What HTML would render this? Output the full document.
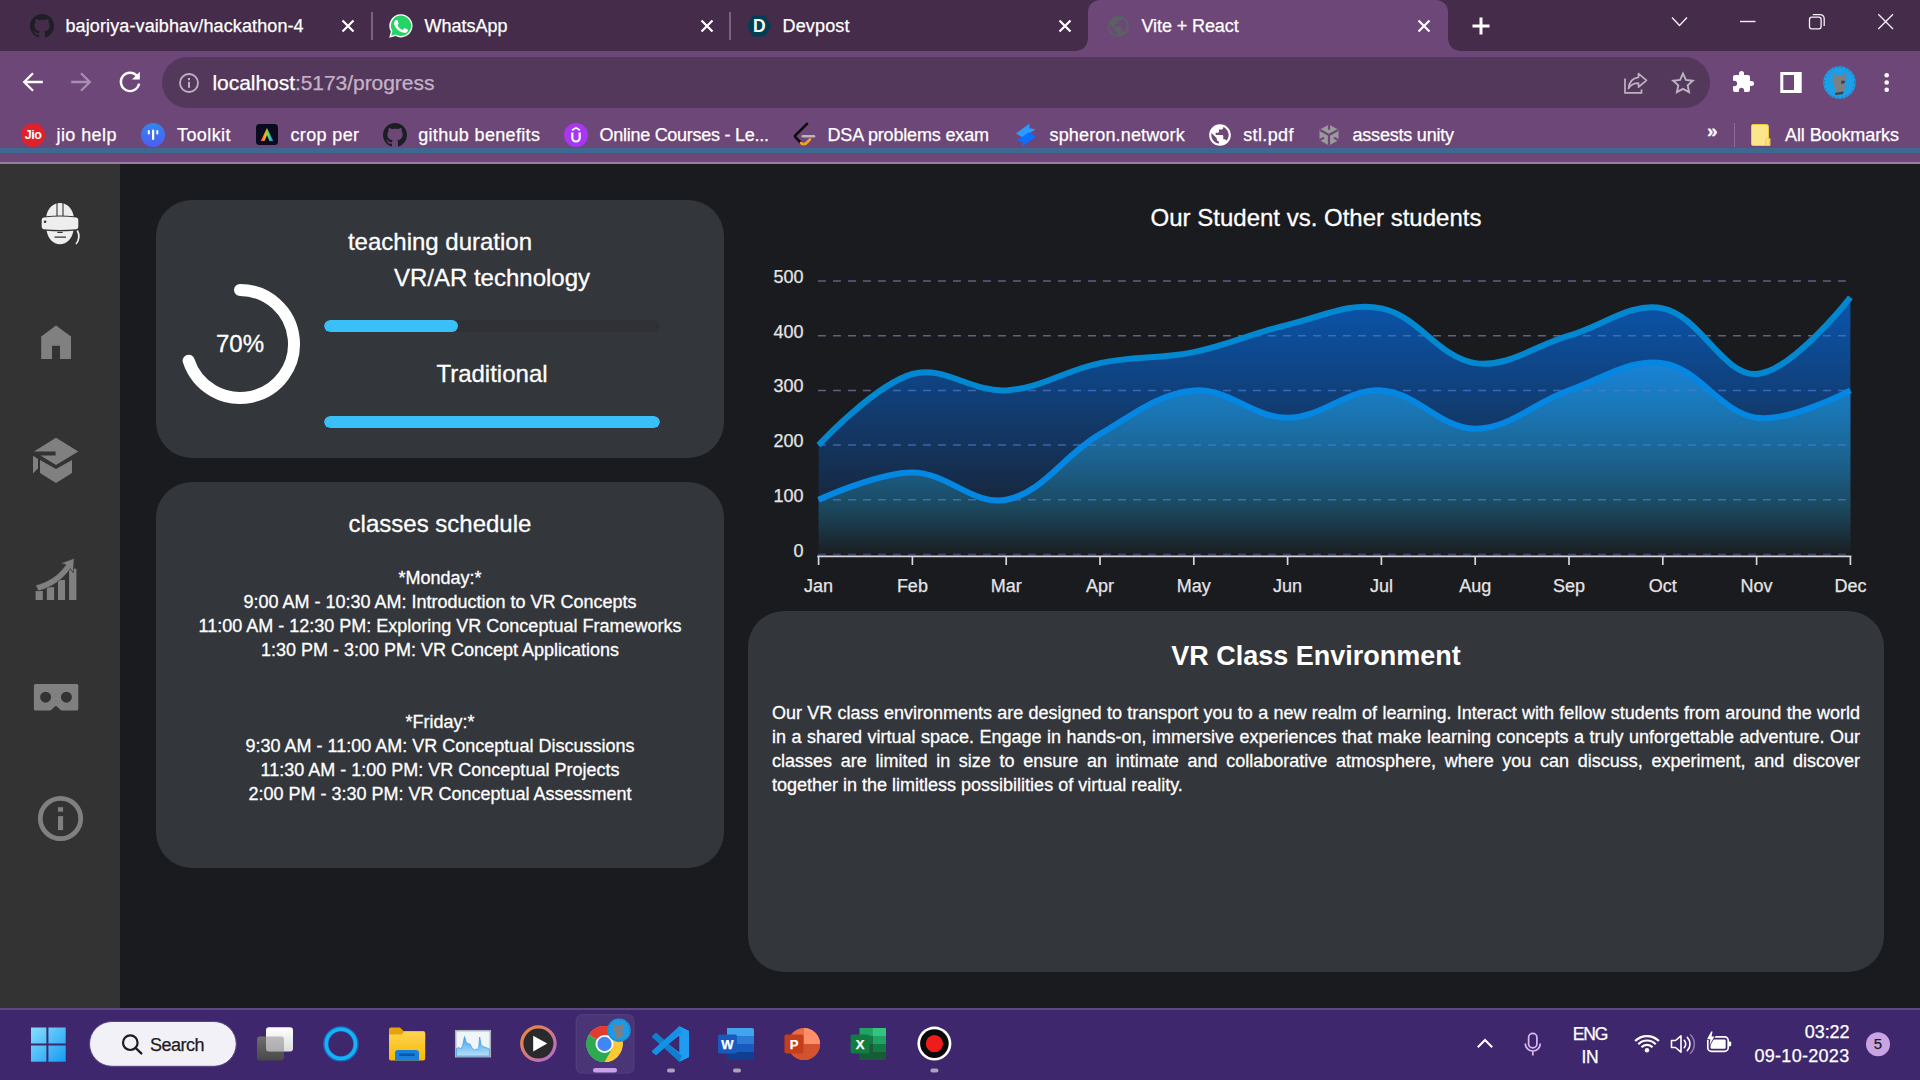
<!DOCTYPE html>
<html lang="en">
<head>
<meta charset="utf-8">
<title>Vite + React</title>
<style>
html,body{margin:0;padding:0;}
body{width:1920px;height:1080px;overflow:hidden;position:relative;background:#1a1b1e;font-family:"Liberation Sans",Arial,sans-serif;color:#fff;}
.abs{position:absolute;}
/* ---------- browser chrome ---------- */
#tabbar{position:absolute;left:0;top:0;width:1920px;height:51px;background:#452c4a;z-index:2;}
#toolbar{position:absolute;left:0;top:50px;width:1920px;height:112px;background:#6d4777;}
#blueline{position:absolute;left:0;top:148px;width:1920px;height:5px;background:#3e688f;}
#lightline{position:absolute;left:0;top:162px;width:1920px;height:2px;background:#9b7ca6;}
.ui{font-family:"Liberation Sans",Arial,sans-serif;white-space:nowrap;position:absolute;color:#fff;}

.tt{position:absolute;-webkit-text-stroke:0.25px #fff;font-size:18px;line-height:22px;white-space:nowrap;color:#fff;}
.sep{position:absolute;width:1.5px;background:#7a6180;}
#acttab{position:absolute;left:1088px;top:0;width:360px;height:51px;background:#6d4777;border-radius:12px 12px 0 0;}
#acttab:before,#acttab:after{content:"";position:absolute;bottom:0;width:12px;height:12px;}
#acttab:before{left:-12px;background:radial-gradient(circle at 0 0,rgba(0,0,0,0) 11.5px,#6d4777 12px);}
#acttab:after{right:-12px;background:radial-gradient(circle at 100% 0,rgba(0,0,0,0) 11.5px,#6d4777 12px);}

#toolbar .tt{position:absolute;-webkit-text-stroke:0.25px #fff;font-size:18px;line-height:22px;white-space:nowrap;color:#fff;}
#omni{position:absolute;left:162px;top:7px;width:1548px;height:51px;border-radius:26px;background:#54385b;}
#url{-webkit-text-stroke:0.25px #fff;position:absolute;left:212.500px;top:20px;font-size:21px;line-height:26px;white-space:nowrap;color:#fff;letter-spacing:-0.05px;}
#url span{color:#c3b3c8;-webkit-text-stroke:0.25px #c3b3c8;}

#taskbar .tx{position:absolute;-webkit-text-stroke:0.25px currentColor;font-size:18px;line-height:22px;white-space:nowrap;color:#fff;}
/* ---------- page ---------- */
#page{position:absolute;left:0;top:0;width:1920px;height:1008px;background:#1a1b1e;overflow:hidden;}
#sidebar{position:absolute;left:0;top:164px;width:120px;height:844px;background:#333333;}
.card{position:absolute;background:#33363b;border-radius:36px;}

.t24{position:absolute;-webkit-text-stroke:0.3px #fff;font-size:24px;line-height:28px;white-space:nowrap;text-align:center;color:#fff;}
.t18{position:absolute;-webkit-text-stroke:0.3px #fff;font-size:18px;line-height:24px;white-space:nowrap;text-align:center;color:#fff;}
.track{position:absolute;left:324px;width:336px;height:12px;border-radius:6px;background:#2f3137;overflow:hidden;}
.fill{position:absolute;left:0;top:0;height:12px;border-radius:6px;background:#3abff8;}
#envtext{-webkit-text-stroke:0.3px #fff;position:absolute;left:772px;top:701px;width:1088px;font-size:18px;line-height:24px;text-align:justify;color:#fff;}
/* ---------- taskbar ---------- */
#taskbar{position:absolute;left:0;top:1008px;width:1920px;height:72px;background:#3e276d;}
#taskbar:before{content:"";position:absolute;left:0;top:0;width:100%;height:2px;background:#5a487f;}
</style>
</head>
<body>
<div id="page">
<div id="sidebar">
<svg class="abs" style="left:0;top:0" width="120" height="844" viewBox="0 164 120 844">
<!-- vr head -->
<g fill="#eeeeee">
<path d="M46.300 216.300C47.500 208.500 52.800 203 60 203S72.500 208.500 73.700 216.300Q60 214.600 46.300 216.300z"/>
<path d="M46.600 230.700Q60 231.900 73.400 230.700C72 238.600 66.800 244.200 60 244.200S48 238.600 46.600 230.700z"/>
<path d="M43.700 217.600Q60 215.500 76.300 217.600Q78.300 217.900 78.300 220V226.800Q78.300 228.900 76.300 229.200Q60 230.700 43.700 229.200Q41.700 228.900 41.700 226.800V220Q41.700 217.900 43.700 217.600z"/>
</g>
<path d="M57 203V216M63 203V216" stroke="#333" stroke-width="1.100" fill="none"/>
<circle cx="45.100" cy="221.700" r="1.300" fill="#333"/>
<path d="M57.300 232.400H62.700M54.500 237.100H66" stroke="#333" stroke-width="1.200" fill="none"/>
<path d="M77.300 230.500C80 235.500 79.300 240 76 244" stroke="#eeeeee" stroke-width="1.700" fill="none"/>
<!-- home -->
<path d="M41.200 359V336.600L56 325.600L71 336.600V359H60V345.800H52V359z" fill="#808080"/>
<!-- school -->
<g fill="#808080">
<path d="M56 437.800L78.300 451.400L56 465L40.500 455.600H55.600V451.400H33.900z"/>
<path d="M33 455.800L38 458.900V468.300L33 473.500z"/>
<path d="M40 460L56 468.900L72 460V473.100L56 483L40 473.100z"/>
</g>
<!-- chart -->
<g fill="#808080">
<rect x="35.600" y="591" width="7.200" height="9"/>
<rect x="46.900" y="587.200" width="7.200" height="12.800"/>
<rect x="58" y="580" width="7" height="20"/>
<rect x="69.100" y="568.700" width="7.300" height="31.300"/>
</g>
<path d="M35.600 585.200C48 582 59 575 65.800 564.700L60.600 563.300L74.200 558.300L73.300 572.800L70.300 568.700C63.500 579 52 587.500 38.300 591.100z" fill="#808080" stroke="#333" stroke-width="0.700"/>
<!-- cardboard -->
<path d="M35.400 684.100H76.800Q78.300 684.100 78.300 685.600V709.100Q78.300 710.600 76.800 710.600H62.300Q61.300 710.600 60.600 709.900L56.600 706.200Q55.900 705.600 55.200 706.200L51.200 709.900Q50.500 710.600 49.500 710.600H35.400Q33.900 710.600 33.900 709.100V685.600Q33.900 684.100 35.400 684.100zM45.600 691.700a5.500 5.500 0 1 0 0 11a5.500 5.500 0 1 0 0 -11zM66.400 691.700a5.500 5.500 0 1 0 0 11a5.500 5.500 0 1 0 0 -11z" fill="#808080" fill-rule="evenodd"/>
<!-- info -->
<circle cx="60.500" cy="818.500" r="20.200" stroke="#808080" stroke-width="4.800" fill="none"/>
<rect x="58" y="807.200" width="5.100" height="4.500" fill="#808080"/>
<rect x="58" y="816.100" width="5.100" height="14" fill="#808080"/>
</svg>
</div>

<!-- teaching duration card -->
<div class="card" style="left:156px;top:200px;width:568px;height:258px;">
</div>
<div class="t24" style="left:156px;width:568px;top:228px;">teaching duration</div>
<div class="t24" style="left:324px;width:336px;top:264px;">VR/AR technology</div>
<div class="track" style="top:320px;"><div class="fill" style="width:134px;"></div></div>
<div class="t24" style="left:324px;width:336px;top:360px;">Traditional</div>
<div class="track" style="top:416px;"><div class="fill" style="width:336px;"></div></div>
<svg class="abs" style="left:176px;top:280px;" width="128" height="128" viewBox="176 280 128 128">
<path id="ring" d="M240 290 A54 54 0 1 1 188.64 360.69" fill="none" stroke="#fff" stroke-width="12" stroke-linecap="round"/>
</svg>
<div class="t24" style="left:180px;width:120px;top:330px;">70%</div>

<!-- classes schedule card -->
<div class="card" style="left:156px;top:482px;width:568px;height:386px;"></div>
<div class="t24" style="left:156px;width:568px;top:510px;">classes schedule</div>
<div class="t18" style="left:156px;width:568px;top:566px;">*Monday:*<br>9:00 AM - 10:30 AM: Introduction to VR Concepts<br>11:00 AM - 12:30 PM: Exploring VR Conceptual Frameworks<br>1:30 PM - 3:00 PM: VR Concept Applications</div>
<div class="t18" style="left:156px;width:568px;top:710px;">*Friday:*<br>9:30 AM - 11:00 AM: VR Conceptual Discussions<br>11:30 AM - 1:00 PM: VR Conceptual Projects<br>2:00 PM - 3:30 PM: VR Conceptual Assessment</div>

<!-- chart -->
<svg class="abs" style="left:740px;top:180px;" width="1180" height="430" viewBox="740 180 1180 430" font-family="'Liberation Sans',Arial,sans-serif">
<defs>
<linearGradient id="gA" x1="0" y1="297" x2="0" y2="554.5" gradientUnits="userSpaceOnUse">
<stop offset="0" stop-color="#0a55ad"/><stop offset="1" stop-color="#1a1c22"/>
</linearGradient>
<linearGradient id="gB" x1="0" y1="363" x2="0" y2="554.5" gradientUnits="userSpaceOnUse">
<stop offset="0" stop-color="#1884d8"/><stop offset="0.25" stop-color="#1a76b4"/><stop offset="0.5" stop-color="#1b6390"/><stop offset="0.75" stop-color="#1b4960"/><stop offset="0.9" stop-color="#1b2f3a"/><stop offset="1" stop-color="#1a1e22"/>
</linearGradient>
<clipPath id="areaclip"><path d="M818.6 445.1C818.6 445.1 874.0 385.2 912.4 374.0C943.4 364.9 971.9 392.4 1006.2 390.4C1041.4 388.4 1064.7 370.3 1100.0 363.1C1134.1 356.1 1159.7 359.1 1193.8 352.1C1229.1 344.9 1252.4 333.0 1287.6 324.8C1321.9 316.8 1349.0 301.7 1381.4 308.4C1418.4 315.9 1438.7 357.7 1475.2 363.1C1508.1 367.8 1534.3 345.8 1569.0 335.7C1603.7 325.6 1630.8 301.8 1662.8 308.4C1700.3 316.0 1722.9 376.0 1756.6 374.0C1792.3 371.9 1850.4 297.4 1850.4 297.4L1850.4 554.5 L818.6 554.5 Z"/></clipPath>
<clipPath id="plot"><rect x="816" y="270" width="1037" height="286"/></clipPath>
</defs>
<text x="1316" y="226" font-size="24" fill="#fff" stroke="#fff" stroke-width="0.3" text-anchor="middle">Our Student vs. Other students</text>
<g stroke="#625f80" stroke-width="1.5" stroke-dasharray="7.9 7.1"><line x1="818" x2="1850" y1="554.5" y2="554.5"/><line x1="818" x2="1850" y1="499.8" y2="499.8"/><line x1="818" x2="1850" y1="445.1" y2="445.1"/><line x1="818" x2="1850" y1="390.4" y2="390.4"/><line x1="818" x2="1850" y1="335.7" y2="335.7"/><line x1="818" x2="1850" y1="281.0" y2="281.0"/></g>
<g clip-path="url(#plot)">
<path d="M818.6 445.1C818.6 445.1 874.0 385.2 912.4 374.0C943.4 364.9 971.9 392.4 1006.2 390.4C1041.4 388.4 1064.7 370.3 1100.0 363.1C1134.1 356.1 1159.7 359.1 1193.8 352.1C1229.1 344.9 1252.4 333.0 1287.6 324.8C1321.9 316.8 1349.0 301.7 1381.4 308.4C1418.4 315.9 1438.7 357.7 1475.2 363.1C1508.1 367.8 1534.3 345.8 1569.0 335.7C1603.7 325.6 1630.8 301.8 1662.8 308.4C1700.3 316.0 1722.9 376.0 1756.6 374.0C1792.3 371.9 1850.4 297.4 1850.4 297.4L1850.4 554.5 L818.6 554.5 Z" fill="url(#gA)"/>
<path d="M818.6 499.8C818.6 499.8 877.7 472.4 912.4 472.4C947.1 472.4 974.2 506.3 1006.2 499.8C1043.7 492.2 1063.5 455.4 1100.0 434.2C1133.0 414.9 1158.1 393.5 1193.8 390.4C1227.5 387.5 1252.9 417.8 1287.6 417.8C1322.3 417.8 1347.3 388.4 1381.4 390.4C1416.7 392.5 1440.5 428.7 1475.2 428.7C1509.9 428.7 1533.7 402.8 1569.0 390.4C1603.1 378.5 1629.9 358.3 1662.8 363.1C1699.3 368.4 1720.1 412.4 1756.6 417.8C1789.5 422.5 1850.4 390.4 1850.4 390.4L1850.4 554.5 L818.6 554.5 Z" fill="url(#gB)"/>
</g>
<g stroke="#4a7cd6" stroke-opacity="0.7" stroke-width="1.5" stroke-dasharray="7.9 7.1" clip-path="url(#areaclip)"><line x1="818" x2="1850" y1="554.5" y2="554.5"/><line x1="818" x2="1850" y1="499.8" y2="499.8"/><line x1="818" x2="1850" y1="445.1" y2="445.1"/><line x1="818" x2="1850" y1="390.4" y2="390.4"/><line x1="818" x2="1850" y1="335.7" y2="335.7"/><line x1="818" x2="1850" y1="281.0" y2="281.0"/></g>
<g clip-path="url(#plot)">
<path d="M818.6 445.1C818.6 445.1 874.0 385.2 912.4 374.0C943.4 364.9 971.9 392.4 1006.2 390.4C1041.4 388.4 1064.7 370.3 1100.0 363.1C1134.1 356.1 1159.7 359.1 1193.8 352.1C1229.1 344.9 1252.4 333.0 1287.6 324.8C1321.9 316.8 1349.0 301.7 1381.4 308.4C1418.4 315.9 1438.7 357.7 1475.2 363.1C1508.1 367.8 1534.3 345.8 1569.0 335.7C1603.7 325.6 1630.8 301.8 1662.8 308.4C1700.3 316.0 1722.9 376.0 1756.6 374.0C1792.3 371.9 1850.4 297.4 1850.4 297.4" fill="none" stroke="#0288d1" stroke-width="6"/>
<path d="M818.6 499.8C818.6 499.8 877.7 472.4 912.4 472.4C947.1 472.4 974.2 506.3 1006.2 499.8C1043.7 492.2 1063.5 455.4 1100.0 434.2C1133.0 414.9 1158.1 393.5 1193.8 390.4C1227.5 387.5 1252.9 417.8 1287.6 417.8C1322.3 417.8 1347.3 388.4 1381.4 390.4C1416.7 392.5 1440.5 428.7 1475.2 428.7C1509.9 428.7 1533.7 402.8 1569.0 390.4C1603.1 378.5 1629.9 358.3 1662.8 363.1C1699.3 368.4 1720.1 412.4 1756.6 417.8C1789.5 422.5 1850.4 390.4 1850.4 390.4" fill="none" stroke="#0487e2" stroke-width="6"/>
</g>
<line x1="817.300" x2="1851.300" y1="556.300" y2="556.300" stroke="#d6d6da" stroke-width="1.800"/>
<g stroke="#d6d6da" stroke-width="1.700"><line x1="818.6" x2="818.6" y1="556" y2="565"/><line x1="912.4" x2="912.4" y1="556" y2="565"/><line x1="1006.2" x2="1006.2" y1="556" y2="565"/><line x1="1100.0" x2="1100.0" y1="556" y2="565"/><line x1="1193.8" x2="1193.8" y1="556" y2="565"/><line x1="1287.6" x2="1287.6" y1="556" y2="565"/><line x1="1381.4" x2="1381.4" y1="556" y2="565"/><line x1="1475.2" x2="1475.2" y1="556" y2="565"/><line x1="1569.0" x2="1569.0" y1="556" y2="565"/><line x1="1662.8" x2="1662.8" y1="556" y2="565"/><line x1="1756.6" x2="1756.6" y1="556" y2="565"/><line x1="1850.4" x2="1850.4" y1="556" y2="565"/></g>
<g font-size="18" fill="#e4e4e6" stroke="#e4e4e6" stroke-width="0.25" text-anchor="middle"><text x="818.6" y="592">Jan</text><text x="912.4" y="592">Feb</text><text x="1006.2" y="592">Mar</text><text x="1100.0" y="592">Apr</text><text x="1193.8" y="592">May</text><text x="1287.6" y="592">Jun</text><text x="1381.4" y="592">Jul</text><text x="1475.2" y="592">Aug</text><text x="1569.0" y="592">Sep</text><text x="1662.8" y="592">Oct</text><text x="1756.6" y="592">Nov</text><text x="1850.4" y="592">Dec</text></g>
<g font-size="18" fill="#e4e4e6" stroke="#e4e4e6" stroke-width="0.25" text-anchor="end"><text x="803.500" y="556.5">0</text><text x="803.500" y="501.8">100</text><text x="803.500" y="447.1">200</text><text x="803.500" y="392.4">300</text><text x="803.500" y="337.7">400</text><text x="803.500" y="283.0">500</text></g>
</svg>

<!-- VR class environment card -->
<div class="card" style="left:748px;top:611px;width:1136px;height:361px;"></div>
<div class="abs" style="left:748px;width:1136px;top:639px;text-align:center;font-size:27px;line-height:34px;font-weight:bold;white-space:nowrap;">VR Class Environment</div>
<div id="envtext">Our VR class environments are designed to transport you to a new realm of learning. Interact with fellow students from around the world in a shared virtual space. Engage in hands-on, immersive experiences that make learning concepts a truly unforgettable adventure. Our classes are limited in size to ensure an intimate and collaborative atmosphere, where you can discuss, experiment, and discover together in the limitless possibilities of virtual reality.</div>
<!--CARDS-->
</div>
<div id="tabbar">
<svg class="abs" style="left:30px;top:14px" width="24" height="24" viewBox="0 0 16 16"><path d="M8 0C3.58 0 0 3.58 0 8c0 3.54 2.29 6.53 5.47 7.59.4.07.55-.17.55-.38 0-.19-.01-.82-.01-1.49-2.01.37-2.53-.49-2.69-.94-.09-.23-.48-.94-.82-1.13-.28-.15-.68-.52-.01-.53.63-.01 1.08.58 1.23.82.72 1.21 1.87.87 2.33.66.07-.52.28-.87.51-1.07-1.78-.2-3.64-.89-3.64-3.95 0-.87.31-1.59.82-2.15-.08-.2-.36-1.02.08-2.12 0 0 .67-.21 2.2.82.64-.18 1.32-.27 2-.27.68 0 1.36.09 2 .27 1.53-1.04 2.2-.82 2.2-.82.44 1.1.16 1.92.08 2.12.51.56.82 1.27.82 2.15 0 3.07-1.87 3.75-3.65 3.95.29.25.54.73.54 1.48 0 1.07-.01 1.93-.01 2.2 0 .21.15.46.55.38A8.013 8.013 0 0016 8c0-4.42-3.58-8-8-8z" fill="#1d1f24"/></svg>
<div class="tt" style="left:65.5px;top:15px;letter-spacing:0.11px">bajoriya-vaibhav/hackathon-4</div>
<svg class="abs" style="left:340px;top:17.7px" width="16" height="16" viewBox="-8 -8 16 16"><path d="M-5.5 -5.5L5.5 5.5M5.5 -5.5L-5.5 5.5" stroke="#fff" stroke-width="2.2" fill="none"/></svg>
<div class="sep" style="left:371px;top:12px;height:28px"></div>
<svg class="abs" style="left:388px;top:13px" width="26" height="26" viewBox="0 0 26 26"><path d="M13 1.2A11.6 11.6 0 0 0 2.9 18.6L1.2 24.8l6.4-1.7A11.6 11.6 0 1 0 13 1.2z" fill="#fff"/><path d="M13 2.6A10.2 10.2 0 0 0 4.4 18.3L3.2 22.8l4.6-1.2A10.2 10.2 0 1 0 13 2.6z" fill="#25d366"/><path d="M9.6 7.5c-.3-.6-.5-.6-.8-.6h-.7c-.2 0-.6.1-.9.5-.3.4-1.2 1.200-1.200 2.900s1.200 3.300 1.400 3.600c.2.200 2.400 3.800 5.900 5.200 2.900 1.100 3.500.9 4.100.8.600-.1 2-.8 2.300-1.600.3-.8.3-1.500.2-1.600-.1-.2-.3-.2-.7-.4l-2.300-1.100c-.3-.1-.6-.2-.8.200-.2.300-.9 1.100-1.100 1.300-.2.200-.4.300-.7.100-.4-.2-1.500-.6-2.800-1.700-1-.9-1.700-2.100-1.900-2.400-.2-.4 0-.5.100-.7l.5-.6c.2-.2.200-.3.300-.6.100-.200.100-.4 0-.6z" fill="#fff"/></svg>
<div class="tt" style="left:424.5px;top:15px;letter-spacing:0px">WhatsApp</div>
<svg class="abs" style="left:698.7px;top:17.7px" width="16" height="16" viewBox="-8 -8 16 16"><path d="M-5.5 -5.5L5.5 5.5M5.5 -5.5L-5.5 5.5" stroke="#fff" stroke-width="2.2" fill="none"/></svg>
<div class="sep" style="left:729px;top:12px;height:28px"></div>
<svg class="abs" style="left:747px;top:14px" width="24" height="24" viewBox="0 0 24 24"><path d="M6 1.6h12l6 10.400-6 10.400H6L0 12z" fill="#003e54"/><text x="12.300" y="18.200" font-family="'Liberation Sans',Arial,sans-serif" font-weight="bold" font-size="17.500" fill="#fff" text-anchor="middle">D</text></svg>
<div class="tt" style="left:782.5px;top:15px;letter-spacing:0.16px">Devpost</div>
<svg class="abs" style="left:1057px;top:17.7px" width="16" height="16" viewBox="-8 -8 16 16"><path d="M-5.5 -5.5L5.5 5.5M5.5 -5.5L-5.5 5.5" stroke="#fff" stroke-width="2.2" fill="none"/></svg>
<div id="acttab"></div>
<svg class="abs" style="left:1105.500px;top:13.500px" width="25" height="25" viewBox="0 0 24 24"><path d="M12 2C6.48 2 2 6.48 2 12s4.48 10 10 10 10-4.48 10-10S17.52 2 12 2zm-1 17.93c-3.95-.49-7-3.85-7-7.93 0-.62.08-1.21.21-1.79L9 15v1c0 1.1.9 2 2 2v1.93zm6.9-2.54c-.26-.81-1-1.39-1.9-1.39h-1v-3c0-.55-.45-1-1-1H8v-2h2c.55 0 1-.45 1-1V7h2c1.1 0 2-.9 2-2v-.41c2.93 1.19 5 4.06 5 7.41 0 2.08-.8 3.97-2.1 5.39z" fill="#5c5f66"/></svg>
<div class="tt" style="left:1141.500px;top:15px;letter-spacing:-0.1px">Vite + React</div>
<svg class="abs" style="left:1415.7px;top:17.7px" width="16" height="16" viewBox="-8 -8 16 16"><path d="M-5.5 -5.5L5.5 5.5M5.5 -5.5L-5.5 5.5" stroke="#fff" stroke-width="2.2" fill="none"/></svg>
<svg class="abs" style="left:1470px;top:15px" width="22" height="22" viewBox="-11 -11 22 22"><path d="M-8.500 0H8.500M0 -8.500V8.500" stroke="#fff" stroke-width="3" fill="none"/></svg>
<svg class="abs" style="left:1669px;top:14px" width="20" height="16" viewBox="0 0 20 16"><path d="M3 3.500L10.500 11.500L18 3.500" stroke="#f6f2f7" stroke-width="1.300" fill="none"/></svg>
<svg class="abs" style="left:1738px;top:18px" width="20" height="8" viewBox="0 0 20 8"><path d="M2 3.500H17.500" stroke="#f6f2f7" stroke-width="1.400" fill="none"/></svg>
<svg class="abs" style="left:1806px;top:12px" width="22" height="20" viewBox="0 0 22 20"><rect x="3.500" y="5.200" width="11.600" height="11.600" rx="2.200" stroke="#f6f2f7" stroke-width="1.300" fill="none"/><path d="M6.800 2.600H14.200A4 4 0 0 1 18.200 6.600V14" stroke="#f6f2f7" stroke-width="1.300" fill="none"/></svg>
<svg class="abs" style="left:1875px;top:11px" width="22" height="22" viewBox="0 0 22 22"><path d="M3.300 3.300L18 18M18 3.300L3.300 18" stroke="#f6f2f7" stroke-width="1.300" fill="none"/></svg>
</div>
<div id="toolbar">
<svg class="abs" style="left:21px;top:20px" width="24" height="24" viewBox="0 0 24 24"><path d="M21.800 12H3.800M12 3.200L3.200 12L12 20.800" stroke="#fff" stroke-width="2.300" fill="none"/></svg>
<svg class="abs" style="left:69px;top:20px" width="24" height="24" viewBox="0 0 24 24"><path d="M2.200 12H20.200M12 3.200L20.800 12L12 20.800" stroke="#a88fb2" stroke-width="2.300" fill="none"/></svg>
<svg class="abs" style="left:117px;top:19px" width="26" height="26" viewBox="0 0 26 26"><path d="M20.300 7.200A9.200 9.200 0 1 0 22.100 14.600" stroke="#fff" stroke-width="2.400" fill="none"/><path d="M22.800 2.800V10.600H15z" fill="#fff"/></svg>
<div id="omni"></div>
<svg class="abs" style="left:178px;top:22px" width="22" height="22" viewBox="0 0 22 22"><circle cx="11" cy="11" r="9" stroke="#bdb2c2" stroke-width="1.800" fill="none"/><rect x="10" y="9.800" width="2" height="6" fill="#bdb2c2"/><rect x="10" y="6" width="2" height="2.200" fill="#bdb2c2"/></svg>
<div id="url">localhost<span>:5173/progress</span></div>
<svg class="abs" style="left:1622px;top:21px" width="28" height="24" viewBox="0 0 28 24"><path d="M3 7.500V21.800H19.500V18.500" stroke="#bdb2c2" stroke-width="1.700" fill="none"/><path d="M16.500 2.600L24.500 9.300L16.500 16V12.200C11.500 12.200 8.500 14 6.500 17.500C7 12 10 7 16.500 6.300z" stroke="#bdb2c2" stroke-width="1.700" fill="none" stroke-linejoin="round"/></svg>
<svg class="abs" style="left:1670px;top:20px" width="26" height="26" viewBox="0 0 26 26"><path d="M13 3.600l2.900 6.300 6.900.800-5.100 4.700 1.400 6.800L13 18.800 6.900 22.200l1.400-6.800L3.200 10.700l6.900-.800z" stroke="#bdb2c2" stroke-width="1.900" fill="none" stroke-linejoin="miter"/></svg>
<svg class="abs" style="left:1731px;top:20px" width="24" height="24" viewBox="0 0 24 24"><path d="M20.500 11H19V7c0-1.100-.9-2-2-2h-4V3.500a2.500 2.500 0 0 0-5 0V5H4c-1.100 0-1.990.9-1.990 2v3.800H3.500c1.490 0 2.700 1.210 2.700 2.700s-1.210 2.700-2.700 2.700H2V20c0 1.100.9 2 2 2h3.800v-1.500c0-1.490 1.210-2.700 2.700-2.700 1.490 0 2.700 1.210 2.700 2.700V22H17c1.100 0 2-.9 2-2v-4h1.500a2.500 2.500 0 0 0 0-5z" fill="#fff"/></svg>
<svg class="abs" style="left:1780px;top:22px" width="22" height="21" viewBox="0 0 22 21"><path d="M0.300 0H21.700V21H0.300zM3.300 3V18H14V3z" fill="#fff" fill-rule="evenodd"/></svg>
<svg class="abs" style="left:1823px;top:15.700px" width="33" height="33" viewBox="0 0 33 33"><circle cx="16.500" cy="16.500" r="16.200" fill="#1d9fe8"/><circle cx="16.500" cy="16.500" r="15" fill="none" stroke="#136c9e" stroke-width="0.800" stroke-dasharray="1.500 2.500"/><path d="M11 6.500l2.500 3.500 6-0.500 3-4 1 6.500-2.500 5 1.500 3.500-2 6-8 1.500-1-9-2-4.500z" fill="#7d7f83"/><path d="M18.500 14.500l4 .500-1.500 2.500-3 .300zM12 27l8.500-1.500-.500 2.500-7.500 1z" fill="#3d3f42"/></svg>
<svg class="abs" style="left:1882px;top:21px" width="10" height="24" viewBox="0 0 10 24"><circle cx="4.700" cy="4.300" r="2.300" fill="#fff"/><circle cx="4.700" cy="11.500" r="2.300" fill="#fff"/><circle cx="4.700" cy="18.700" r="2.300" fill="#fff"/></svg>

<!-- bookmarks bar -->
<svg class="abs" style="left:21px;top:73px" width="24" height="24" viewBox="0 0 24 24"><circle cx="12" cy="12" r="12" fill="#e0202b"/><text x="12" y="16.200" font-family="'Liberation Sans',Arial,sans-serif" font-weight="bold" font-size="12.500" fill="#fff" text-anchor="middle" letter-spacing="-0.500">Jio</text></svg>
<div class="tt" style="left:56.5px;top:74px;letter-spacing:0.42px">jio help</div>
<svg class="abs" style="left:141px;top:73px" width="24" height="24" viewBox="0 0 24 24"><defs><linearGradient id="tk" x1="0" y1="0" x2="0" y2="1"><stop offset="0" stop-color="#2f86f0"/><stop offset="1" stop-color="#4f5cf2"/></linearGradient></defs><circle cx="12" cy="12" r="12" fill="url(#tk)"/><rect x="11" y="6.500" width="2.200" height="10.500" rx="1" fill="#fff"/><rect x="6.800" y="7" width="2" height="4.500" rx="1" fill="#fff"/><rect x="15.300" y="7" width="2" height="4.500" rx="1" fill="#fff"/></svg>
<div class="tt" style="left:177px;top:74px;letter-spacing:0.41px">Toolkit</div>
<svg class="abs" style="left:256px;top:74px" width="22" height="21" viewBox="0 0 22 21"><defs><linearGradient id="ad" x1="0" y1="0" x2="1" y2="0"><stop offset="0" stop-color="#ff3d6e"/><stop offset="0.350" stop-color="#ffb000"/><stop offset="0.650" stop-color="#3ddc84"/><stop offset="1" stop-color="#3a6cff"/></linearGradient></defs><rect width="22" height="21" rx="3.500" fill="#0a0b1f"/><path d="M11 4l6.300 13h-3.800L11 11.200 8.500 17H4.700z" fill="url(#ad)"/></svg>
<div class="tt" style="left:290.5px;top:74px;letter-spacing:0.35px">crop per</div>
<svg class="abs" style="left:382.500px;top:73px" width="24" height="24" viewBox="0 0 16 16"><path d="M8 0C3.58 0 0 3.58 0 8c0 3.54 2.29 6.53 5.47 7.59.4.07.55-.17.55-.38 0-.19-.01-.82-.01-1.49-2.01.37-2.53-.49-2.69-.94-.09-.23-.48-.94-.82-1.13-.28-.15-.68-.52-.01-.53.63-.01 1.08.58 1.23.82.72 1.21 1.87.87 2.33.66.07-.52.28-.87.51-1.07-1.78-.2-3.64-.89-3.64-3.95 0-.87.31-1.59.82-2.15-.08-.2-.36-1.02.08-2.12 0 0 .67-.21 2.2.82.64-.18 1.32-.27 2-.27.68 0 1.36.09 2 .27 1.53-1.04 2.2-.82 2.2-.82.44 1.1.16 1.92.08 2.12.51.56.82 1.27.82 2.15 0 3.07-1.87 3.75-3.65 3.95.29.25.54.73.54 1.48 0 1.07-.01 1.93-.01 2.2 0 .21.15.46.55.38A8.013 8.013 0 0016 8c0-4.42-3.58-8-8-8z" fill="#1b1e23"/></svg>
<div class="tt" style="left:418.2px;top:74px;letter-spacing:0.33px">github benefits</div>
<svg class="abs" style="left:563.700px;top:73px" width="24" height="24" viewBox="0 0 24 24"><circle cx="12" cy="12" r="12" fill="#a737f2"/><path d="M8.300 9.500V14.800a3.700 3.700 0 0 0 7.400 0V9.500" stroke="#fff" stroke-width="2.200" fill="none"/><path d="M8 7.300L12 4.800L16 7.300" stroke="#fff" stroke-width="1.800" fill="none"/></svg>
<div class="tt" style="left:599.5px;top:74px;letter-spacing:-0.27px">Online Courses - Le...</div>
<svg class="abs" style="left:792px;top:72px" width="24" height="26" viewBox="0 0 24 26"><path d="M15 1.800L3.600 13.200a1.600 1.600 0 0 0 0 2.200L9 21" stroke="#0c0c0d" stroke-width="2.600" fill="none" stroke-linecap="round"/><path d="M9 21a3.800 3.800 0 0 0 5.400 0L18 17.400" stroke="#f7a41d" stroke-width="2.600" fill="none" stroke-linecap="round"/><path d="M10.800 14.300H22" stroke="#b8b8b8" stroke-width="2.600" fill="none" stroke-linecap="round"/></svg>
<div class="tt" style="left:827.5px;top:74px;letter-spacing:-0.16px">DSA problems exam</div>
<svg class="abs" style="left:1014px;top:72px" width="24" height="26" viewBox="0 0 24 26"><path d="M15.500 1.500L2 11.500l7 4.200L21.500 7.200l-6-1z" fill="#2a9bff"/><path d="M8.500 24.500L22 14.500l-7-4.200L2.500 18.800l6 1z" fill="#0d6efd"/></svg>
<div class="tt" style="left:1049.5px;top:74px;letter-spacing:0.15px">spheron.network</div>
<svg class="abs" style="left:1207px;top:72px" width="26" height="26" viewBox="0 0 24 24"><path d="M12 2C6.48 2 2 6.48 2 12s4.480 10 10 10 10-4.480 10-10S17.520 2 12 2zm-1 17.930c-3.950-.490-7-3.850-7-7.930 0-.620.080-1.210.210-1.790L9 15v1c0 1.100.900 2 2 2v1.930zm6.900-2.540c-.260-.810-1-1.390-1.900-1.390h-1v-3c0-.550-.450-1-1-1H8v-2h2c.550 0 1-.450 1-1V7h2c1.100 0 2-.900 2-2v-.410c2.930 1.190 5 4.060 5 7.410 0 2.080-.800 3.970-2.100 5.390z" fill="#fff"/></svg>
<div class="tt" style="left:1243.2px;top:74px;letter-spacing:0.37px">stl.pdf</div>
<svg class="abs" style="left:1317px;top:73px" width="24" height="24" viewBox="0 0 24 24"><path d="M12 1.500l9.500 5.300v10.400L12 22.500l-9.500-5.300V6.800z" fill="#9a9a9a"/><path d="M12 12V22M12 12L3 7M12 12l9-5" stroke="#6d4777" stroke-width="2.200"/><path d="M12 1.500v5.200M2.500 17.200l4.500-2.600M21.500 17.200l-4.500-2.600" stroke="#6d4777" stroke-width="2.200"/></svg>
<div class="tt" style="left:1352.5px;top:74px;letter-spacing:-0.21px">assests unity</div>
<div class="tt" style="left:1707px;top:70px;font-size:19px;font-weight:bold;">»</div>
<div class="sep" style="left:1733.500px;top:73px;height:24px;background:#8d6f96;"></div>
<svg class="abs" style="left:1751px;top:74px" width="20" height="22" viewBox="0 0 20 22"><path d="M2 0.500H15.500Q17.500 0.500 17.500 2.500V14.500H19V21.500H2Q0.500 21.500 0.500 20V2Q0.500 0.500 2 0.500z" fill="#fce68a" stroke="#f0c63c" stroke-width="1"/><path d="M14.800 21V16.200a1.800 1.800 0 0 1 3.600 0V21" fill="#fce68a" stroke="#f0c63c" stroke-width="1"/></svg>
<div class="tt" style="left:1785px;top:74px;letter-spacing:-0.09px">All Bookmarks</div>
</div>
<div id="blueline"></div>
<div id="lightline"></div>
<div id="taskbar">
<svg class="abs" style="left:0;top:0" width="1920" height="72" viewBox="0 1008 1920 72">
<defs>
<linearGradient id="wl" x1="0" y1="0" x2="1" y2="1"><stop offset="0" stop-color="#86defc"/><stop offset="1" stop-color="#149cf4"/></linearGradient>
<linearGradient id="tv1" x1="0" y1="0" x2="0" y2="1"><stop offset="0" stop-color="#6e6e6e"/><stop offset="1" stop-color="#484848"/></linearGradient>
<linearGradient id="tv2" x1="0" y1="0" x2="0" y2="1"><stop offset="0" stop-color="#ffffff"/><stop offset="1" stop-color="#dcdcdc"/></linearGradient>
<linearGradient id="fo" x1="0" y1="0" x2="0" y2="1"><stop offset="0" stop-color="#fdd352"/><stop offset="1" stop-color="#f9b900"/></linearGradient>
<linearGradient id="mp" x1="0" y1="0" x2="1" y2="1"><stop offset="0" stop-color="#f58a2c"/><stop offset="1" stop-color="#a86be0"/></linearGradient>
<linearGradient id="pm" x1="0" y1="0" x2="0" y2="1"><stop offset="0" stop-color="#3f9fea"/><stop offset="1" stop-color="#b5e0fa"/></linearGradient>
</defs>
<!-- windows logo -->
<g fill="url(#wl)"><rect x="31" y="1027.500" width="34.700" height="34.200" fill="url(#wl)"/></g>
<path d="M47.400 1027V1062.500M30.500 1044.600H66.500" stroke="#3e276d" stroke-width="2"/>
<!-- search pill -->
<rect x="89.500" y="1021.500" width="146.800" height="44.800" rx="22.400" fill="#f3f1f8" stroke="#574385" stroke-width="1"/>
<circle cx="130.300" cy="1042.700" r="7.300" stroke="#1c1c1c" stroke-width="2.200" fill="none"/>
<path d="M135.600 1048L141.300 1053.400" stroke="#1c1c1c" stroke-width="2.400" stroke-linecap="round"/>
<!-- task view -->
<rect x="257" y="1036.400" width="27" height="24" rx="3" fill="url(#tv1)"/>
<rect x="266" y="1027.200" width="27" height="24.400" rx="3" fill="url(#tv2)"/>
<path d="M266 1036.400H281Q284 1036.400 284 1039.400V1051.600H269Q266 1051.600 266 1048.600z" fill="#000" fill-opacity="0.220"/>
<!-- cortana -->
<circle cx="340.900" cy="1043.900" r="15" stroke="#1b6cc4" stroke-width="5.400" fill="none"/>
<circle cx="340.900" cy="1043.900" r="14.600" stroke="#14b3f5" stroke-width="3.400" fill="none"/>
<!-- file explorer -->
<path d="M389 1029.600Q389 1027.600 391 1027.600H400L403.500 1031H423.200Q425.200 1031 425.200 1033V1040H389z" fill="#e5a50a"/>
<path d="M389 1034.500H401.500L404.500 1031.500H423.200Q425.200 1031.500 425.200 1033.500V1058.400Q425.200 1060.400 423.200 1060.400H391Q389 1060.400 389 1058.400z" fill="url(#fo)"/>
<path d="M395 1053Q395 1050 398 1050H416Q419 1050 419 1053V1060.400H395z" fill="#1680dc"/>
<rect x="399" y="1053.600" width="15.700" height="2.400" rx="0.500" fill="#0a58a5"/>
<!-- perf monitor -->
<rect x="455.700" y="1030.700" width="34.600" height="26" fill="#f0f5f9" stroke="#a9b3bc" stroke-width="1.500"/>
<path d="M456.500 1048.500L459 1047.500L460.500 1049L462.500 1046L464.500 1036.500L466 1041.500L467.500 1043.500L470 1044L472 1048L474.500 1050L476.500 1049L478.500 1049.500L479.700 1037L481 1044.500L483 1046.500L486 1047.500L489.500 1049V1056H456.500z" fill="url(#pm)" stroke="#3a9be6" stroke-width="0.700"/>
<!-- media player -->
<circle cx="538.400" cy="1043.600" r="18.300" fill="url(#mp)"/>
<circle cx="538.400" cy="1043.600" r="15" fill="#2a2a2c"/>
<path d="M533.200 1035.800L547.200 1043.600L533.200 1051.400z" fill="#fff"/>
<!-- chrome highlight -->
<rect x="576" y="1014.500" width="58.200" height="58.800" rx="6" fill="#fff" fill-opacity="0.065" stroke="#fff" stroke-opacity="0.070" stroke-width="1"/>
<!-- chrome logo -->
<g transform="translate(604.500 1044)">
<circle r="18" fill="#fff"/>
<path d="M0 0L-15.590 -9A18 18 0 0 1 15.590 -9z" fill="#e33b2e"/>
<path d="M0 0L15.590 -9A18 18 0 0 1 0 18z" fill="#fcc934"/>
<path d="M0 0L0 18A18 18 0 0 1 -15.590 -9z" fill="#2da94f"/>
<path d="M-15.590 -9A18 18 0 0 1 15.590 -9L0 -9z" fill="#e33b2e"/>
<path d="M7.790 4.500L0 18A18 18 0 0 0 15.590 -9L0 -9z" fill="#fcc934"/>
<path d="M-7.790 4.500L-15.590 -9A18 18 0 0 0 0 18L7.790 4.500z" fill="#2da94f"/>
<circle r="9" fill="#fff"/>
<circle r="7.200" fill="#4285f4"/>
</g>
<!-- chrome badge -->
<circle cx="619" cy="1030.200" r="11.700" fill="#1b9ae6"/>
<circle cx="619" cy="1030.200" r="10.500" fill="none" stroke="#1478b8" stroke-width="0.800" stroke-dasharray="1.500 2"/>
<path d="M614.500 1023.200l2 2.500 4.500-.500 2.500-3 .500 5-1.800 3.500 1 2.500-1.500 4.500-6 1-.700-6.500-1.500-3.500z" fill="#7d7f83"/>
<rect x="593" y="1068" width="24" height="4.500" rx="2.250" fill="#c9a2ea"/>
<!-- vscode -->
<path d="M679.500 1026.300L689 1030.800V1057.200L679.500 1061.700L658 1041.500L654.300 1044.500L652 1043V1045L654.300 1043.500z" fill="none"/>
<path d="M679.300 1026.200L689 1030.900V1057.100L679.300 1061.800L662.500 1044L679.300 1026.200z" fill="#2aaaf2"/>
<path d="M679.300 1026.200L689 1030.900V1057.100L679.300 1061.800z" fill="#1f9cf0"/>
<path d="M679.300 1035.500V1052.500L668.200 1044z" fill="#3e276d"/>
<path d="M652.300 1035.700L655.200 1033.200Q656 1032.600 656.900 1033.300L682 1056L679.300 1061.800L652.400 1037.600Q651.500 1036.700 652.300 1035.700z" fill="#0f7fd0"/>
<path d="M652.300 1052.300L655.200 1054.800Q656 1055.400 656.900 1054.700L682 1032L679.300 1026.200L652.400 1050.400Q651.500 1051.300 652.300 1052.300z" fill="#1592e6"/>
<rect x="667" y="1068.500" width="8" height="4" rx="2" fill="#a9a3b8"/>
<!-- word -->
<path d="M727 1028H752Q754 1028 754 1030V1036H727z" fill="#41a5ee"/>
<rect x="727" y="1036" width="27" height="8" fill="#2b7cd3"/>
<rect x="727" y="1044" width="27" height="8" fill="#185abd"/>
<path d="M727 1052H754V1058Q754 1060 752 1060H727z" fill="#103f91"/>
<rect x="718" y="1034.500" width="19" height="19" rx="1.800" fill="#185abd"/>
<rect x="733" y="1068.500" width="8" height="4" rx="2" fill="#a9a3b8"/>
<!-- powerpoint -->
<circle cx="804" cy="1044" r="16" fill="#ed6c47"/>
<path d="M804 1028A16 16 0 0 1 820 1044H804z" fill="#ff8f6b"/>
<path d="M788 1044H820A16 16 0 0 1 788.800 1049z" fill="#d35230"/>
<rect x="784.500" y="1034.500" width="19" height="19" rx="1.800" fill="#c43e1c"/>
<!-- excel -->
<path d="M859.500 1028H884Q886 1028 886 1030V1036H859.500z" fill="#21a366"/>
<rect x="872.800" y="1028" width="13.200" height="8" fill="#33c481"/>
<rect x="859.500" y="1036" width="13.300" height="8" fill="#107c41"/>
<rect x="872.800" y="1036" width="13.200" height="8" fill="#21a366"/>
<rect x="859.500" y="1044" width="13.300" height="8" fill="#185c37"/>
<rect x="872.800" y="1044" width="13.200" height="8" fill="#107c41"/>
<path d="M859.500 1052H886V1058Q886 1060 884 1060H859.500z" fill="#185c37"/>
<rect x="850.600" y="1034.500" width="19" height="19" rx="1.800" fill="#107c41"/>
<!-- record -->
<circle cx="934.400" cy="1043.600" r="17" fill="#fff"/>
<circle cx="934.400" cy="1043.600" r="14.300" fill="#0a0a0a"/>
<circle cx="934.400" cy="1043.600" r="8.600" fill="#ee1c1c"/>
<rect x="930.400" y="1068.500" width="8" height="4" rx="2" fill="#a9a3b8"/>
<!-- tray -->
<path d="M1477.800 1047.300L1485 1040L1492.200 1047.300" stroke="#fff" stroke-width="2" fill="none"/>
<g stroke="#dcb9f2" stroke-width="1.700" fill="none"><rect x="1528.600" y="1033.300" width="8.300" height="14.500" rx="4.150"/><path d="M1525.300 1043.500a7.500 7.500 0 0 0 15 0M1532.800 1051V1055.500"/></g>
<!-- wifi -->
<g stroke="#fff" stroke-width="2.200" fill="none"><path d="M1635.1 1041.1A16.6 16.6 0 0 1 1658.9 1041.1"/><path d="M1638.3 1044.2A12.1 12.1 0 0 1 1655.7 1044.2"/><path d="M1641.5 1047.3A7.6 7.6 0 0 1 1652.5 1047.3"/></g>
<circle cx="1647" cy="1050.200" r="2.200" fill="#fff"/>
<!-- volume -->
<path d="M1671.500 1040.500H1675.500L1681 1035.800V1052.200L1675.500 1047.500H1671.500z" stroke="#fff" stroke-width="1.600" fill="none" stroke-linejoin="round"/>
<path d="M1684.200 1040.300a5.300 5.300 0 0 1 0 7.400M1687.300 1037.400a9.400 9.400 0 0 1 0 13.200" stroke="#fff" stroke-width="1.600" fill="none" stroke-linecap="round"/>
<path d="M1690.500 1034.800a13 13 0 0 1 0 18.400" stroke="#8e7ab0" stroke-width="1.600" fill="none" stroke-linecap="round"/>
<!-- battery -->
<rect x="1707.800" y="1036.900" width="20.400" height="14.400" rx="3.600" stroke="#fff" stroke-width="1.700" fill="none"/>
<rect x="1710.500" y="1039.500" width="15.200" height="9.300" rx="1.200" fill="#fff"/>
<path d="M1729 1041.600h1.200q1 0 1 1v2.600q0 1-1 1h-1.200z" fill="#fff"/>
<path d="M1711.200 1031.600L1707 1039.200H1710.400L1709.600 1045.200L1714.400 1036.600H1711.500L1712.600 1031.600z" fill="#fff" stroke="#3e276d" stroke-width="1.600" paint-order="stroke"/>
<!-- badge -->
<circle cx="1878" cy="1044.200" r="12" fill="#c9a3e2"/>
</svg>
<div class="tx" style="left:150px;top:26px;color:#1c1c1c;letter-spacing:-0.5px;">Search</div>
<div class="tx" style="left:721px;top:25.500px;width:13px;text-align:center;font-size:13px;font-weight:bold;line-height:22px;">W</div>
<div class="tx" style="left:787.500px;top:25.500px;width:13px;text-align:center;font-size:13px;font-weight:bold;line-height:22px;">P</div>
<div class="tx" style="left:853.600px;top:25.500px;width:13px;text-align:center;font-size:13px;font-weight:bold;line-height:22px;">X</div>
<div class="tx" style="left:1560px;width:60px;text-align:center;top:15px;font-size:17.500px;letter-spacing:-1.100px;">ENG</div>
<div class="tx" style="left:1560px;width:60px;text-align:center;top:37.500px;font-size:17.500px;letter-spacing:-0.300px;">IN</div>
<div class="tx" style="right:70.500px;top:12.500px;text-align:right;letter-spacing:-0.060px;">03:22</div>
<div class="tx" style="right:70.500px;top:36.500px;text-align:right;letter-spacing:0.300px;">09-10-2023</div>
<div class="tx" style="left:1868px;width:20px;text-align:center;top:25px;font-size:15px;color:#1c1c1c;">5</div>
</div>
</body>
</html>
